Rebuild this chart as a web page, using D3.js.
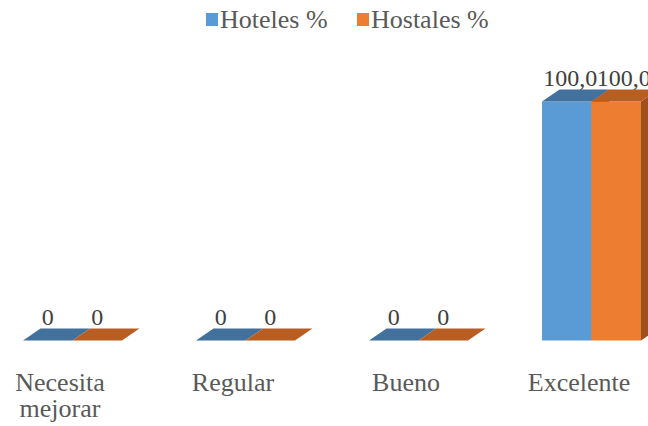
<!DOCTYPE html>
<html>
<head>
<meta charset="utf-8">
<script src="https://cdn.jsdelivr.net/npm/d3@7"></script>
</head>
<body style="margin:0">
<svg id="chart" width="648" height="426"></svg>
<script>
const categories = [["Necesita", "mejorar"], ["Regular"], ["Bueno"], ["Excelente"]];
const seriesNames = ["Hoteles %", "Hostales %"];
const hoteles = [0, 0, 0, 100];
const hostales = [0, 0, 0, 100];
const valueLabels = [["0", "0", "0", "100,0"], ["0", "0", "0", "100,0"]];

const svg = d3.select("#chart");
const FONT = '"Liberation Serif"';

const colors = [
  { front: "#5B9BD5", top: "#41719C", side: "#3F6E99" },
  { front: "#ED7D31", top: "#B85E22", side: "#A0501C" }
];
const dx = 17.5, dy = 12;

const catKeys = categories.map((c, i) => "c" + i);
const x0 = d3.scaleBand().domain(catKeys).range([-14, 678]).paddingInner(0.428).paddingOuter(0.214);
const x1 = d3.scaleBand().domain(seriesNames).range([0, x0.bandwidth()]).padding(0);
const y = d3.scaleLinear().domain([0, 100]).range([340.5, 101.5]);

const series = [hoteles, hostales];

const g = svg.append("g");
catKeys.forEach((ck, ci) => {
  series.forEach((vals, si) => {
    const v = vals[ci];
    const xl = x0(ck) + x1(seriesNames[si]);
    const xr = xl + x1.bandwidth();
    const yt = y(v), yb = y(0);
    const c = colors[si];
    if (yb - yt > 0) {
      g.append("rect").attr("x", xl).attr("y", yt).attr("width", xr - xl).attr("height", yb - yt)
        .attr("fill", c.front);
      g.append("path").attr("d", `M${xr},${yt}L${xr + dx},${yt - dy}L${xr + dx},${yb - dy}L${xr},${yb}Z`)
        .attr("fill", c.side);
    }
    g.append("path").attr("d", `M${xl},${yt}L${xl + dx},${yt - dy}L${xr + dx},${yt - dy}L${xr},${yt}Z`)
      .attr("fill", c.top);
  });
});

// value labels
catKeys.forEach((ck, ci) => {
  series.forEach((vals, si) => {
    const xl = x0(ck) + x1(seriesNames[si]);
    const cx = xl + x1.bandwidth() / 2 + (vals[ci] > 0 ? 3.5 + si * 4 : 0);
    svg.append("text").attr("x", cx).attr("y", y(vals[ci]) - dy - 4)
      .attr("text-anchor", "middle").style("font-family", FONT).attr("font-size", 24)
      .attr("fill", "#404040").text(valueLabels[si][ci]);
  });
});

// category labels
catKeys.forEach((ck, ci) => {
  const cx = x0(ck) + x0.bandwidth() / 2 - 12.5;
  const t = svg.append("text").attr("text-anchor", "middle").style("font-family", FONT)
    .attr("font-size", 26).attr("fill", "#595959");
  categories[ci].forEach((line, li) => {
    t.append("tspan").attr("x", cx).attr("y", 391 + li * 25.5).text(line);
  });
});

// legend
const legendItems = [
  { name: seriesNames[0], color: colors[0].front, x: 206 },
  { name: seriesNames[1], color: colors[1].front, x: 357 }
];
legendItems.forEach(it => {
  svg.append("rect").attr("x", it.x).attr("y", 13).attr("width", 12).attr("height", 13).attr("fill", it.color);
  svg.append("text").attr("x", it.x + 14).attr("y", 28).style("font-family", FONT).attr("font-size", 26)
    .attr("fill", "#595959").text(it.name);
});
</script>
</body>
</html>
